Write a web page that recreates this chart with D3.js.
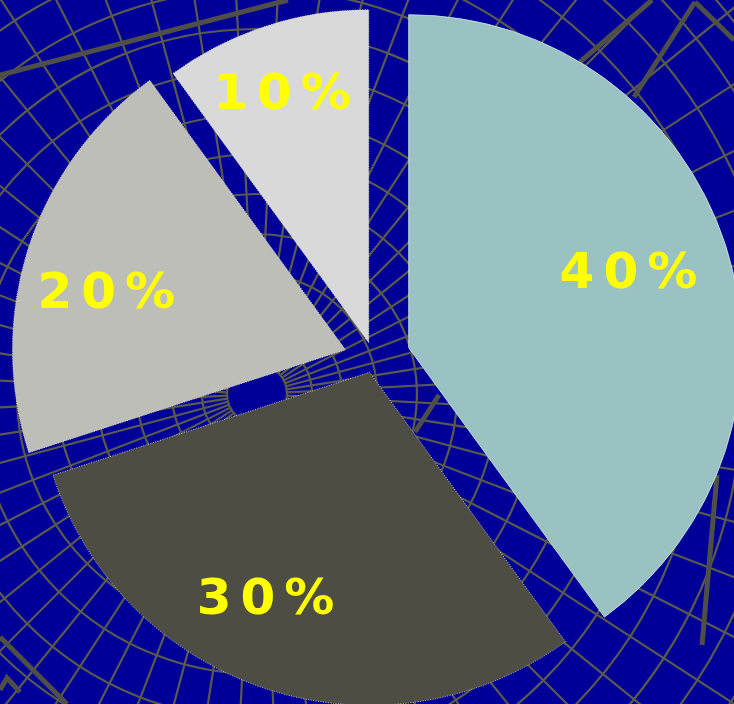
<!DOCTYPE html>
<html>
<head>
<meta charset="utf-8">
<script src="https://cdn.jsdelivr.net/npm/d3@7"></script>
<style>
  html, body { margin: 0; padding: 0; background: #000099; }
  svg { display: block; }
</style>
</head>
<body>
<svg id="chart" width="734" height="704"></svg>
<script>
// Share of each slice, clockwise from 12 o'clock
const categories = ["A", "B", "C", "D"];
const shares = [40, 30, 20, 10];
const labels = ["40%", "30%", "20%", "10%"];

// Slice appearance
const sliceColors = ["#9bc2c2", "#4d4d43", "#bebeb9", "#d9d9d9"];
const explode = [36.5, 14, 30, 17];          // push-out distance of each slice
const labelRadius = [0.70, 0.74, 0.74, 0.80]; // label distance as a share of the radius
const labelTurn = [-1.5, 7, -4, -1];          // small angular nudge of each label (deg)

const W = 734, H = 704;
const cx = 374, cy = 359, R = 333;

const svg = d3.select("#chart");

// ---- background: polar mesh ----
const bg = svg.append("g");
bg.append("rect").attr("width", W).attr("height", H).attr("fill", "#000099");

const gx = 257, gy = 394;
const ringRadii = [30, 55, 85, 120, 160, 200, 240, 280, 325, 365, 405, 445, 485, 525, 565, 605, 645, 690, 735];
const meshColor = "#5a5a4c";

bg.selectAll("circle.ring").data(ringRadii).join("circle")
  .attr("class", "ring")
  .attr("cx", gx).attr("cy", gy).attr("r", d => d)
  .attr("fill", "none").attr("stroke", meshColor).attr("stroke-width", 2.2);

const spokes = d3.range(3, 363, 6);
bg.selectAll("line.spoke").data(spokes).join("line")
  .attr("class", "spoke")
  .attr("x1", a => gx + 30 * Math.sin(a * Math.PI / 180))
  .attr("y1", a => gy - 30 * Math.cos(a * Math.PI / 180))
  .attr("x2", a => gx + 1000 * Math.sin(a * Math.PI / 180))
  .attr("y2", a => gy - 1000 * Math.cos(a * Math.PI / 180))
  .attr("stroke", meshColor).attr("stroke-width", 2.2);

// heavier strokes drawn across the mesh
const heavy = [
  [[0, 75], [288, 0]],
  [[580, 62], [652, 0]],
  [[634, 97], [695, 2]],
  [[695, 2], [734, 40]],
  [[439, 395], [415, 432]],
  [[717, 475], [702, 645]],
  [[0, 637], [67, 704]],
  [[0, 690], [7, 678], [20, 692]]
];
bg.selectAll("path.heavy").data(heavy).join("path")
  .attr("class", "heavy")
  .attr("d", d => d3.line()(d))
  .attr("fill", "none").attr("stroke", "#4f4f47").attr("stroke-width", 5)
  .attr("stroke-linecap", "butt");

// ---- pie ----
const pie = d3.pie().sort(null).value(d => d)(shares);
const arc = d3.arc().innerRadius(0).outerRadius(R);

const dir = a => [Math.sin(a), -Math.cos(a)];

const slices = svg.append("g").selectAll("g.slice").data(pie).join("g")
  .attr("class", "slice")
  .attr("transform", (d, i) => {
    const m = (d.startAngle + d.endAngle) / 2;
    const [dx, dy] = dir(m);
    return `translate(${cx + explode[i] * dx},${cy + explode[i] * dy})`;
  });

slices.append("path")
  .attr("d", arc)
  .attr("fill", (d, i) => sliceColors[i])
  .attr("stroke", (d, i) => i === 0 ? "#c8e4e4" : "#e4e4dc")
  .attr("stroke-width", 1)
  .attr("stroke-dasharray", (d, i) => i === 0 ? null : "1,1.5")
  .attr("stroke-opacity", 0.85);

const spacing = 9;
slices.append("text")
  .attr("transform", (d, i) => {
    const m = (d.startAngle + d.endAngle) / 2 + labelTurn[i] * Math.PI / 180;
    const [dx, dy] = dir(m);
    const r = labelRadius[i] * R;
    return `translate(${r * dx + spacing / 2},${r * dy})`;
  })
  .attr("text-anchor", "middle")
  .attr("dy", "0.36em")
  .attr("font-family", "'DejaVu Sans', sans-serif")
  .attr("font-weight", "bold")
  .attr("font-size", 50)
  .attr("letter-spacing", spacing)
  .attr("fill", "#ffff00")
  .text((d, i) => labels[i]);
</script>
</body>
</html>
